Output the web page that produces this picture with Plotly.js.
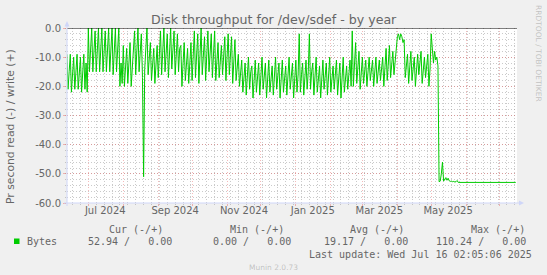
<!DOCTYPE html>
<html><head><meta charset="utf-8">
<script src="https://cdn.plot.ly/plotly-3.0.1.min.js"></script>
<style>html,body{margin:0;padding:0;background:#F0F0F0;}#chart{width:547px;height:275px;}</style>
</head><body><div id="chart"></div>
<script>
// ---- DATA (daily read throughput, shown negative) ----
const startJun = '2024-06-12';
const valsJun = [-9, -21, -15, -9, -22, -14, -10, -21, -16, -9, -21, -13, -10, -22, -15, -9, -21, -12, -22];
const startJul = '2024-07-01';
const valsJulAug = [0, -15, -7, 0, -15, -6, -1, -15, -8, 0, -15, -5, 0, -15, -7, -1, -15, -6, 0, -15, -8, 0,
  -16, -6, 0, -15, -9, 0, -20, -12, -19,
  -6, -20, -13, -7, -19, -12, -5, -20, -14, -8,
  -1, -16, -8, 0, -15, -7, -2, -17];
const startSpike = '2024-08-19';
const valsSpike = [-51];
const startAutumn = '2024-08-20';
const valsAutumn = [-14, -6, 0, -16, -8,
  -5, -18, -11, -7, -19, -12, -6, -17, -10,
  -1, -16, -8, 0, -15, -7, -2, -17, -9, 0, -14, -6, -1, -16, -8, -2, -15, -7,
  -6, -20, -12, -5, -18, -11, -7, -19, -13, -5,
  -18, -9, -1, -17, -8, -2, -19, -10, 0, -16, -7, -3, -18, -9, -1, -15, -8, -2, -17, -10, -1, -18,
  -9, -5, -17, -10, -6, -16, -9,
  -3, -18, -10, -2, -16, -9, -3, -19, -11, -4,
  -18, -12, -9, -20, -14];
const startWinter = '2024-11-14';
const valsWinter = [-11, -22, -16, -12, -23, -17, -10, -21, -15, -13, -24, -18, -11, -22, -16, -12, -23,
  -17, -10, -21, -15, -12, -24, -18, -11, -22, -16, -13, -23, -17, -10, -21, -15, -12, -24, -18, -11, -22, -16, -13, -23, -17, -10, -21, -15, -12, -24, -18,
  -11, -22, -16,
  -2,
  -22, -16, -12, -23, -17, -11, -21, -15,
  -2,
  -21, -15, -12, -23, -17, -10, -22, -16, -13, -24, -18, -11, -21, -15, -12, -23, -17, -10,
  -22, -16, -13, -21, -15, -11, -23, -17, -12, -24, -18, -10, -22, -16, -13, -21, -15, -11, -20,
  -1,
  -20, -12, -5, -19, -13, -8, -21, -14];
const startSpring = '2025-03-01';
const valsSpring = [-10, -19, -14, -11, -20, -15, -10, -18, -13, -11, -20, -15, -10, -19, -14, -11, -18, -13, -10, -20,
  -14, -7, -18, -12, -6, -17, -11, -8, -16, -12, -8,
  -3, -2, -4, -2, -3, -5, -4,
  -17, -12, -9, -19, -13, -8, -18, -12, -10, -20, -14, -9, -16, -11, -8, -19, -13, -10, -17, -12, -9, -20, -14,
  -2,
  -9, -12, -8, -11, -10, -13,
  -52.7, -52.5, -50, -46, -52.5, -52, -51.3, -52.2, -51.5, -52.4, -52.6, -52.5, -52.7, -52.6, -52.8, -52.7, -52.3];
const flatDates = ['2025-05-25', '2025-06-15', '2025-07-15'];
const flatVals = [-52.94, -52.94, -52.94];

const yTickVals = [0, -10, -20, -30, -40, -50, -60];
const yTickText = ['0.0', '-10.0', '-20.0', '-30.0', '-40.0', '-50.0', '-60.0'];
const xLabelDates = ['2024-07-16', '2024-09-16', '2024-11-16', '2025-01-16', '2025-03-16', '2025-05-16'];
const xLabelText = ['Jul 2024', 'Sep 2024', 'Nov 2024', 'Jan 2025', 'Mar 2025', 'May 2025'];

const legendName = 'Bytes';
const statHeads = ['Cur (-/+)', 'Min (-/+)', 'Avg (-/+)', 'Max (-/+)'];
const statVals = ['52.94 /   0.00', '0.00 /   0.00', '19.17 /   0.00', '110.24 /   0.00'];
const lastUpdate = 'Last update: Wed Jul 16 02:05:06 2025';

// ---- build series ----
function days(start, vals) {
  const t0 = Date.parse(start + 'T00:00:00Z');
  return vals.map((v, i) => new Date(t0 + i * 86400000).toISOString().slice(0, 10));
}
const segs = [[startJun, valsJun], [startJul, valsJulAug], [startSpike, valsSpike],
  [startAutumn, valsAutumn], [startWinter, valsWinter], [startSpring, valsSpring]];
let xs = [], ys = [];
segs.forEach(([s, v]) => { xs = xs.concat(days(s, v)); ys = ys.concat(v); });
xs = xs.concat(flatDates); ys = ys.concat(flatVals);

// ---- layout helpers (pixel -> paper) ----
const L = 67, R = 517, T = 28, B = 203;
const px = x => (x - L) / (R - L);
const py = y => (B - y) / (B - T);
const xRange = ['2024-06-12 02:00', '2025-07-16 02:00'];
const FONT = '#666666';
const MGRID = 'rgba(230,90,90,0.42)';
const GRID = 'rgba(150,150,150,0.5)';
const AXIS = '#CFD6F8';

const traces = [
  {type: 'scatter', mode: 'lines', x: xs, y: ys, line: {color: '#00CC00', width: 1}, hoverinfo: 'skip', showlegend: false},
  {type: 'scatter', mode: 'lines', x: [], y: [], xaxis: 'x2', yaxis: 'y', showlegend: false, hoverinfo: 'skip'}
];

const ann = [];
function txt(text, x, y, opts) {
  ann.push(Object.assign({text: text, xref: 'paper', yref: 'paper', x: px(x), y: py(y), showarrow: false,
    xanchor: 'left', yanchor: 'middle', borderpad: 0,
    font: {family: 'DejaVu Sans Mono', size: 10, color: FONT}}, opts || {}));
}
const nb = s => s.replace(/ /g, '\u00A0');
txt('Disk throughput for /dev/sdef - by year', 273.5, 19, {xanchor: 'center', font: {family: 'DejaVu Sans', size: 12.6, color: FONT}});
txt('Pr second read (-) / write (+)', 10, 127, {xanchor: 'center', textangle: -90, font: {family: 'DejaVu Sans', size: 10.8, color: FONT}});
txt('RRDTOOL / TOBI OETIKER', 539, 53, {xanchor: 'center', textangle: 90, font: {family: 'DejaVu Sans', size: 7.5, color: 'rgba(102,102,102,0.35)'}});
txt('Munin 2.0.73', 273, 267, {xanchor: 'center', font: {family: 'DejaVu Sans', size: 7.5, color: 'rgba(102,102,102,0.35)'}});
const headRight = [164, 285, 405, 526];
const valRight = [173, 292, 409, 527];
statHeads.forEach((h, i) => txt(nb(h), headRight[i], 229, {xanchor: 'right'}));
statVals.forEach((v, i) => txt(nb(v), valRight[i], 241.5, {xanchor: 'right'}));
txt(legendName, 26, 241.5);
txt(nb(lastUpdate), 533, 254, {xanchor: 'right'});

const shapes = [
  {type: 'line', xref: 'paper', yref: 'y', x0: 0, x1: 1, y0: 0, y1: 0, line: {color: '#000000', width: 1}},
  {type: 'line', xref: 'paper', yref: 'paper', x0: 0, x1: 0, y0: py(206), y1: py(24), line: {color: AXIS, width: 1}},
  {type: 'line', xref: 'paper', yref: 'paper', x0: px(64), x1: px(520), y0: 0, y1: 0, line: {color: AXIS, width: 1}},
  {type: 'path', xref: 'paper', yref: 'paper', fillcolor: AXIS, line: {width: 0},
    path: `M${px(64.5)},${py(26.5)} L${px(69.5)},${py(26.5)} L${px(67)},${py(21)} Z`},
  {type: 'path', xref: 'paper', yref: 'paper', fillcolor: AXIS, line: {width: 0},
    path: `M${px(519)},${py(200.5)} L${px(519)},${py(205.5)} L${px(524)},${py(203)} Z`},
  {type: 'rect', xref: 'paper', yref: 'paper', x0: px(14), x1: px(19.5), y0: py(244), y1: py(238.5),
    fillcolor: '#00CC00', line: {width: 0}}
];

const layout = {
  width: 547, height: 275,
  margin: {l: L, r: 547 - R, t: T, b: 275 - B, pad: 0},
  paper_bgcolor: '#F0F0F0', plot_bgcolor: '#FFFFFF',
  showlegend: false,
  font: {family: 'DejaVu Sans', size: 10, color: FONT},
  xaxis: {type: 'date', range: xRange, tick0: '2024-07-01', dtick: 'M1', showticklabels: false,
    showgrid: true, gridcolor: MGRID, griddash: '1px,2px', gridwidth: 1,
    ticks: 'outside', ticklen: 2, tickcolor: MGRID, showline: false, zeroline: false,
    minor: {tick0: '2024-06-17', dtick: 604800000, showgrid: true, gridcolor: GRID, griddash: '1px,2px', gridwidth: 1,
      ticks: 'outside', ticklen: 1, tickcolor: GRID}},
  xaxis2: {type: 'date', overlaying: 'x', anchor: 'y', side: 'bottom', range: xRange,
    tickmode: 'array', tickvals: xLabelDates, ticktext: xLabelText, showgrid: false, ticks: '',
    showline: false, zeroline: false, tickfont: {family: 'DejaVu Sans', size: 10, color: FONT}},
  yaxis: {range: [-60, 0], tickmode: 'array', tickvals: yTickVals, ticktext: yTickText,
    showgrid: true, gridcolor: MGRID, griddash: '1px,2px', gridwidth: 1,
    ticks: 'outside', ticklen: 3, tickcolor: MGRID, showline: false, zeroline: false,
    tickfont: {family: 'DejaVu Sans', size: 10, color: FONT},
    minor: {tickmode: 'linear', tick0: 0, dtick: 2, showgrid: true, gridcolor: GRID, griddash: '1px,2px', gridwidth: 1,
      ticks: 'outside', ticklen: 1, tickcolor: GRID}},
  shapes: shapes,
  annotations: ann
};

Plotly.newPlot('chart', traces, layout, {staticPlot: true, displayModeBar: false});
</script></body></html>
